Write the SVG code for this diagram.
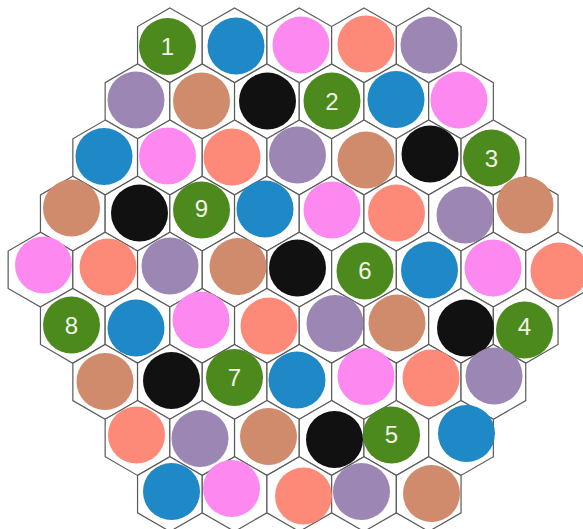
<svg xmlns="http://www.w3.org/2000/svg" xmlns:xlink="http://www.w3.org/1999/xlink" width="583" height="529" viewBox="0 0 583 529">
<style>
.hx{fill:#fff;stroke:#5a5a5a;stroke-width:1.2}
.g{fill:#4c8a1e}.b{fill:#1f88c6}.p{fill:#fd89f0}.s{fill:#fd8a78}.u{fill:#9c87b4}.n{fill:#d08b6d}.k{fill:#111}
.t{font-family:"Liberation Sans",Arial,sans-serif;font-size:24px;fill:#f2f5e6;text-anchor:middle}
</style>
<defs>
<polygon id="h" class="hx" points="0,-37.4 32.35,-18.7 32.35,18.7 0,37.4 -32.35,18.7 -32.35,-18.7"/>
</defs>
<rect width="583" height="529" fill="#fff"/>
<g id="grid">
<use href="#h" x="169.9" y="45.3"/><use href="#h" x="234.6" y="45.3"/><use href="#h" x="299.3" y="45.3"/><use href="#h" x="364" y="45.3"/><use href="#h" x="428.7" y="45.3"/>
<use href="#h" x="137.5" y="101.4"/><use href="#h" x="202.2" y="101.4"/><use href="#h" x="266.9" y="101.4"/><use href="#h" x="331.6" y="101.4"/><use href="#h" x="396.3" y="101.4"/><use href="#h" x="461" y="101.4"/>
<use href="#h" x="105.2" y="157.5"/><use href="#h" x="169.9" y="157.5"/><use href="#h" x="234.6" y="157.5"/><use href="#h" x="299.3" y="157.5"/><use href="#h" x="364" y="157.5"/><use href="#h" x="428.7" y="157.5"/><use href="#h" x="493.4" y="157.5"/>
<use href="#h" x="72.8" y="213.6"/><use href="#h" x="137.5" y="213.6"/><use href="#h" x="202.2" y="213.6"/><use href="#h" x="266.9" y="213.6"/><use href="#h" x="331.6" y="213.6"/><use href="#h" x="396.3" y="213.6"/><use href="#h" x="461" y="213.6"/><use href="#h" x="525.7" y="213.6"/>
<use href="#h" x="40.5" y="269.7"/><use href="#h" x="105.2" y="269.7"/><use href="#h" x="169.9" y="269.7"/><use href="#h" x="234.6" y="269.7"/><use href="#h" x="299.3" y="269.7"/><use href="#h" x="364" y="269.7"/><use href="#h" x="428.7" y="269.7"/><use href="#h" x="493.4" y="269.7"/><use href="#h" x="558.1" y="269.7"/>
<use href="#h" x="72.8" y="325.8"/><use href="#h" x="137.5" y="325.8"/><use href="#h" x="202.2" y="325.8"/><use href="#h" x="266.9" y="325.8"/><use href="#h" x="331.6" y="325.8"/><use href="#h" x="396.3" y="325.8"/><use href="#h" x="461" y="325.8"/><use href="#h" x="525.7" y="325.8"/>
<use href="#h" x="105.2" y="381.9"/><use href="#h" x="169.9" y="381.9"/><use href="#h" x="234.6" y="381.9"/><use href="#h" x="299.3" y="381.9"/><use href="#h" x="364" y="381.9"/><use href="#h" x="428.7" y="381.9"/><use href="#h" x="493.4" y="381.9"/>
<use href="#h" x="137.5" y="438"/><use href="#h" x="202.2" y="438"/><use href="#h" x="266.9" y="438"/><use href="#h" x="331.6" y="438"/><use href="#h" x="396.3" y="438"/><use href="#h" x="461" y="438"/>
<use href="#h" x="169.9" y="494.1"/><use href="#h" x="234.6" y="494.1"/><use href="#h" x="299.3" y="494.1"/><use href="#h" x="364" y="494.1"/><use href="#h" x="428.7" y="494.1"/>
</g>
<g id="discs">
<g id="r0">
<g id="n1"><circle class="g" cx="167.5" cy="46.5" r="28.5"/><text class="t" x="167.5" y="55">1</text></g>
<circle class="b" cx="236" cy="46" r="28.5"/>
<circle class="p" cx="301" cy="45" r="28.5"/>
<circle class="s" cx="366" cy="44" r="28.5"/>
<circle class="u" cx="429" cy="45" r="28.5"/>
</g>
<g id="r1">
<circle class="u" cx="136" cy="100" r="28.5"/>
<circle class="n" cx="201.5" cy="101" r="28.5"/>
<circle class="k" cx="267.5" cy="101" r="28.5"/>
<g id="n2"><circle class="g" cx="332" cy="101" r="28.5"/><text class="t" x="332" y="109.5">2</text></g>
<circle class="b" cx="396" cy="99.5" r="28.5"/>
<circle class="p" cx="459" cy="100" r="28.5"/>
</g>
<g id="r2">
<circle class="b" cx="104" cy="156.5" r="28.5"/>
<circle class="p" cx="167.5" cy="156" r="28.5"/>
<circle class="s" cx="232" cy="157" r="28.5"/>
<circle class="u" cx="297.5" cy="155" r="28.5"/>
<circle class="n" cx="366" cy="160" r="28.5"/>
<circle class="k" cx="430" cy="154" r="28.5"/>
<g id="n3"><circle class="g" cx="491.5" cy="158" r="28.5"/><text class="t" x="491.5" y="166.5">3</text></g>
</g>
<g id="r3">
<circle class="n" cx="71.5" cy="208" r="28.5"/>
<circle class="k" cx="139.5" cy="213" r="28.5"/>
<g id="n9"><circle class="g" cx="201.5" cy="210" r="28.5"/><text class="t" x="201.5" y="217">9</text></g>
<circle class="b" cx="265" cy="209" r="28.5"/>
<circle class="p" cx="332" cy="210" r="28.5"/>
<circle class="s" cx="396.5" cy="213" r="28.5"/>
<circle class="u" cx="465" cy="215" r="28.5"/>
<circle class="n" cx="525" cy="205" r="28.5"/>
</g>
<g id="r4">
<circle class="p" cx="43.5" cy="265" r="28.5"/>
<circle class="s" cx="108" cy="267" r="28.5"/>
<circle class="u" cx="170" cy="266" r="28.5"/>
<circle class="n" cx="238" cy="266.5" r="28.5"/>
<circle class="k" cx="297.5" cy="268" r="28.5"/>
<g id="n6"><circle class="g" cx="365" cy="271" r="28.5"/><text class="t" x="365" y="279">6</text></g>
<circle class="b" cx="429.5" cy="270" r="28.5"/>
<circle class="p" cx="493" cy="268" r="28.5"/>
<circle class="s" cx="559" cy="271" r="28.5"/>
</g>
<g id="r5">
<g id="n8"><circle class="g" cx="71.5" cy="325" r="28.5"/><text class="t" x="71.5" y="333.5">8</text></g>
<circle class="b" cx="136" cy="328" r="28.5"/>
<circle class="p" cx="201" cy="320" r="28.5"/>
<circle class="s" cx="269" cy="326" r="28.5"/>
<circle class="u" cx="335" cy="323.5" r="28.5"/>
<circle class="n" cx="397" cy="323" r="28.5"/>
<circle class="k" cx="465.5" cy="328" r="28.5"/>
<g id="n4"><circle class="g" cx="524.5" cy="330" r="28.5"/><text class="t" x="524.5" y="335">4</text></g>
</g>
<g id="r6">
<circle class="n" cx="105" cy="381.5" r="28.5"/>
<circle class="k" cx="171.5" cy="380.5" r="28.5"/>
<g id="n7"><circle class="g" cx="234.5" cy="377.5" r="28.5"/><text class="t" x="234.5" y="386">7</text></g>
<circle class="b" cx="297" cy="380" r="28.5"/>
<circle class="p" cx="366" cy="376.5" r="28.5"/>
<circle class="s" cx="431" cy="378" r="28.5"/>
<circle class="u" cx="494" cy="376" r="28.5"/>
</g>
<g id="r7">
<circle class="s" cx="136.5" cy="435" r="28.5"/>
<circle class="u" cx="200" cy="438.5" r="28.5"/>
<circle class="n" cx="268.5" cy="436.5" r="28.5"/>
<circle class="k" cx="334.5" cy="439.5" r="28.5"/>
<g id="n5"><circle class="g" cx="391.5" cy="435" r="28.5"/><text class="t" x="391.5" y="443">5</text></g>
<circle class="b" cx="466.5" cy="433.5" r="28.5"/>
</g>
<g id="r8">
<circle class="b" cx="171.5" cy="491.5" r="28.5"/>
<circle class="p" cx="231.5" cy="488.5" r="28.5"/>
<circle class="s" cx="303.5" cy="496" r="28.5"/>
<circle class="u" cx="361.5" cy="491.5" r="28.5"/>
<circle class="n" cx="431.5" cy="493.5" r="28.5"/>
</g>
</g>
</svg>
